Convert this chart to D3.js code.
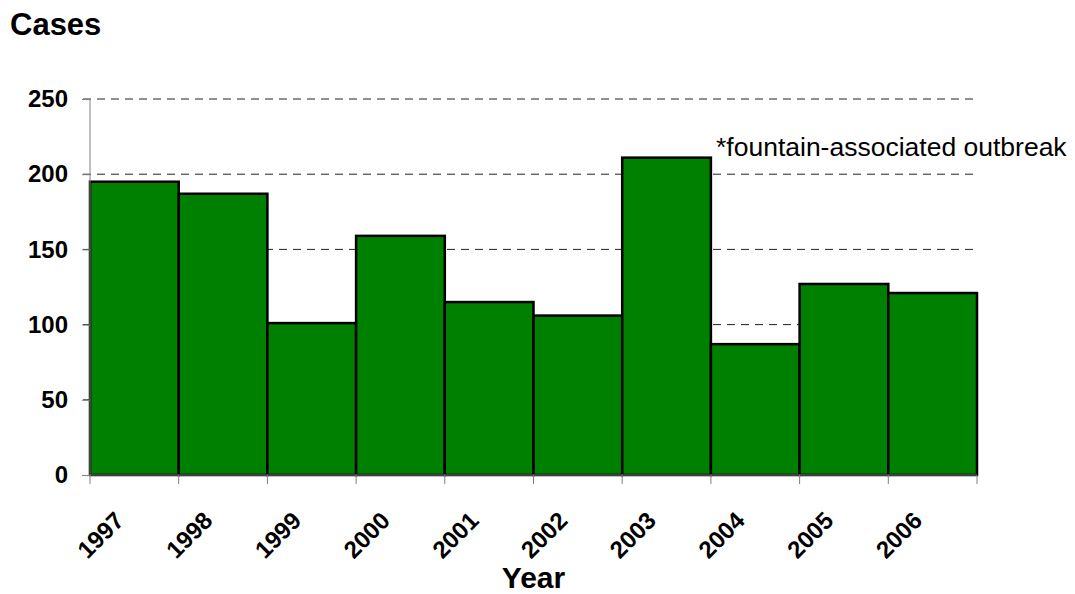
<!DOCTYPE html>
<html>
<head>
<meta charset="utf-8">
<script src="https://cdn.jsdelivr.net/npm/d3@7"></script>
<style>
  body { margin: 0; background: #fff; }
  text { font-family: "Liberation Sans", Arial, sans-serif; }
</style>
</head>
<body>
<script>
// the data
var years = ["1997", "1998", "1999", "2000", "2001", "2002", "2003", "2004", "2005", "2006"];
var cases = [195, 187, 101, 159, 115, 106, 211, 87, 127, 121];
var yTicks = [0, 50, 100, 150, 200, 250];
var note = "*fountain-associated outbreak";

var width = 1075, height = 594;
var plotLeft = 90, plotRight = 977, plotTop = 99, plotBottom = 475;

var svg = d3.select("body").append("svg")
    .attr("width", width)
    .attr("height", height);

var x = d3.scaleBand().domain(years).range([plotLeft, plotRight]).padding(0);
var y = d3.scaleLinear().domain([0, 250]).range([plotBottom, plotTop]);

// dashed gridlines behind the bars
svg.append("g").selectAll("line")
    .data(yTicks.filter(function (d) { return d > 0; }))
    .enter().append("line")
    .attr("x1", plotLeft - 7)
    .attr("x2", 973)
    .attr("y1", function (d) { return y(d); })
    .attr("y2", function (d) { return y(d); })
    .attr("stroke", "#222")
    .attr("stroke-width", 1)
    .attr("stroke-dasharray", "8,6");

// bars
svg.append("g").selectAll("rect")
    .data(cases)
    .enter().append("rect")
    .attr("x", function (d, i) { return x(years[i]); })
    .attr("y", function (d) { return y(d); })
    .attr("width", x.bandwidth())
    .attr("height", function (d) { return y(0) - y(d); })
    .attr("fill", "#008000")
    .attr("stroke", "#000")
    .attr("stroke-width", 2.5);

// y axis
var yAxis = svg.append("g")
    .attr("transform", "translate(" + plotLeft + ",0)")
    .call(d3.axisLeft(y).tickValues(yTicks).tickSize(8).tickPadding(14));
yAxis.select(".domain").attr("stroke", "#808080").attr("d", "M0," + plotTop + "V" + plotBottom);
yAxis.selectAll(".tick line").attr("stroke", "#808080");
yAxis.selectAll(".tick text")
    .attr("fill", "#000")
    .style("font-size", "24px")
    .style("font-weight", "bold")
    .style("font-family", "'Liberation Sans', Arial, sans-serif");

// x axis: ticks sit on the band edges
var edges = years.map(function (d) { return x(d); }).concat([plotRight]);
svg.append("line")
    .attr("x1", plotLeft).attr("x2", plotRight)
    .attr("y1", plotBottom).attr("y2", plotBottom)
    .attr("stroke", "#808080");
svg.append("g").selectAll("line")
    .data(edges)
    .enter().append("line")
    .attr("x1", function (d) { return d; })
    .attr("x2", function (d) { return d; })
    .attr("y1", plotBottom)
    .attr("y2", plotBottom + 9)
    .attr("stroke", "#808080");

svg.append("g").selectAll("text")
    .data(years)
    .enter().append("text")
    .attr("transform", function (d) {
        return "translate(" + (x(d) + x.bandwidth() / 2 - 9) + "," + 522 + ") rotate(-45)";
    })
    .attr("text-anchor", "end")
    .style("font-size", "24px")
    .style("font-weight", "bold")
    .text(function (d) { return d; });

// titles
svg.append("text")
    .attr("x", 10).attr("y", 35)
    .style("font-size", "31px")
    .style("font-weight", "bold")
    .text("Cases");

svg.append("text")
    .attr("x", (plotLeft + plotRight) / 2).attr("y", 588)
    .attr("text-anchor", "middle")
    .style("font-size", "30px")
    .style("font-weight", "bold")
    .text("Year");

svg.append("text")
    .attr("x", 716).attr("y", 156)
    .style("font-size", "26.5px")
    .text(note);
</script>
</body>
</html>
